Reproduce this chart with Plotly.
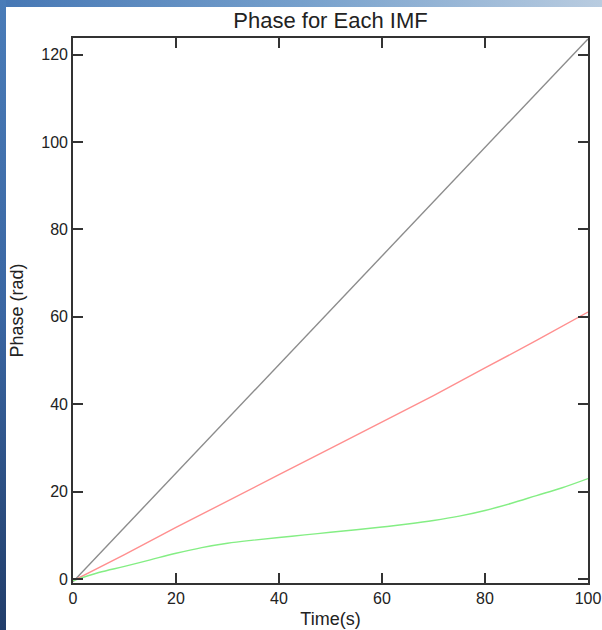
import base64
import plotly.graph_objects as go

# ---- data ----
time_coarse = [0, 10, 20, 30, 40, 50, 60, 70, 80, 90, 100]
phase_imf1 = [-0.6, 11.8, 24.2, 36.6, 49.0, 61.4, 73.8, 86.2, 98.6, 111.0, 123.6]
phase_imf2 = [-0.4, 5.6, 11.8, 17.9, 23.9, 29.9, 36.0, 42.0, 48.3, 54.6, 61.1]

time_fine = [0, 5, 10, 15, 20, 25, 30, 35, 40, 45, 50, 55, 60, 65, 70, 75, 80, 85, 90, 95, 100]
phase_imf3 = [-0.4, 1.5, 2.9, 4.4, 5.9, 7.2, 8.2, 8.9, 9.5, 10.1, 10.7, 11.3, 11.9, 12.6, 13.4, 14.4,
              15.7, 17.3, 19.1, 20.9, 23.0]

x_ticks = [0, 20, 40, 60, 80, 100]
y_ticks = [0, 20, 40, 60, 80, 100, 120]

W, H = 602, 630
ML, MR, MT, MB = 73, 14, 38, 47
pw, ph = W - ML - MR, H - MT - MB

svg = f"""<svg xmlns='http://www.w3.org/2000/svg' width='{W}' height='{H}' viewBox='0 0 {W} {H}' preserveAspectRatio='none'>
<defs>
<linearGradient id='t' x1='0' x2='1' y1='0' y2='0'>
<stop offset='0' stop-color='#4677b4'/><stop offset='0.5' stop-color='#76a0cc'/><stop offset='1' stop-color='#b9cce0'/>
</linearGradient>
<linearGradient id='l' x1='0' x2='0' y1='0' y2='1'>
<stop offset='0' stop-color='#4a7cb8'/><stop offset='0.5' stop-color='#3a66a2'/><stop offset='1' stop-color='#213d6a'/>
</linearGradient>
</defs>
<rect width='{W}' height='{H}' fill='white'/>
<rect x='0' y='0' width='{W}' height='7' fill='url(#t)'/>
<rect x='0' y='0' width='6' height='{H}' fill='url(#l)'/>
</svg>"""
src = "data:image/svg+xml;base64," + base64.b64encode(svg.encode()).decode()

fig = go.Figure()
fig.add_trace(go.Scatter(x=time_coarse, y=phase_imf1, mode="lines",
                         line=dict(color="#8c8c8c", width=1.4), showlegend=False))
fig.add_trace(go.Scatter(x=time_coarse, y=phase_imf2, mode="lines",
                         line=dict(color="#ff8f8f", width=1.4), showlegend=False))
fig.add_trace(go.Scatter(x=time_fine, y=phase_imf3, mode="lines", line_shape="spline",
                         line=dict(color="#84ee84", width=1.4), showlegend=False))

font = "Liberation Sans, Arial, Helvetica, sans-serif"
axis_common = dict(showgrid=False, zeroline=False, showline=True, linecolor="#333333", linewidth=1.6,
                   mirror="ticks", ticks="inside", ticklen=10, tickwidth=1.6, tickcolor="#333333",
                   automargin=False,
                   tickfont=dict(family=font, size=16, color="#222222"))

fig.update_layout(
    template="none",
    width=W, height=H, autosize=False,
    margin=dict(l=ML, r=MR, t=MT, b=MB, pad=0, autoexpand=False),
    paper_bgcolor="white", plot_bgcolor="rgba(0,0,0,0)",
    font=dict(family=font, color="#222222"),
    title=dict(text="Phase for Each IMF", x=0.5, xref="paper", xanchor="center",
               y=1 - 20 / H, yref="container", yanchor="middle",
               font=dict(family=font, size=22, color="#222222")),
    xaxis=dict(range=[0, 100], tickvals=x_ticks,
               title=dict(text="Time(s)", font=dict(family=font, size=18, color="#222222"), standoff=6),
               **axis_common),
    yaxis=dict(range=[-0.9, 123.8], tickvals=y_ticks,
               title=dict(text="Phase (rad)", font=dict(family=font, size=18, color="#222222"), standoff=13),
               **axis_common),
    images=[dict(source=src, xref="paper", yref="paper",
                 x=-ML / pw, y=1 + MT / ph, sizex=W / pw, sizey=H / ph,
                 xanchor="left", yanchor="top", sizing="stretch", layer="below")],
)

fig.write_html("out.html")
